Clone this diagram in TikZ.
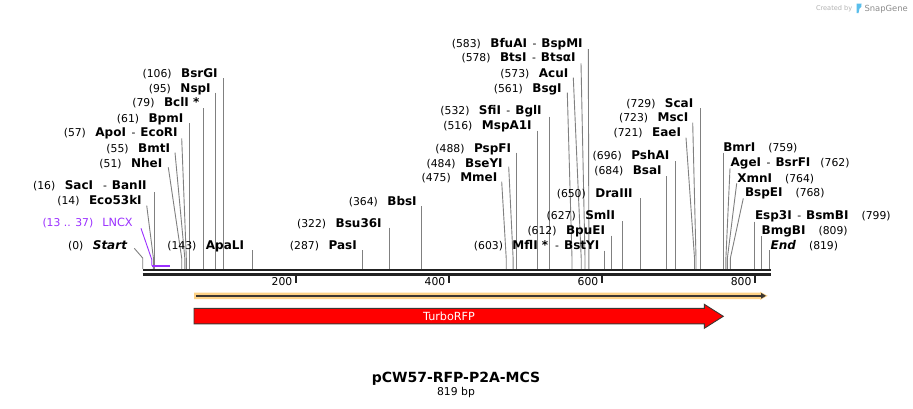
\documentclass[tikz,border=0pt]{standalone}
\usepackage{fontspec}
\setmainfont{DejaVu Sans}
\usetikzlibrary{arrows.meta}
\definecolor{sitegray}{RGB}{128,128,128}
\definecolor{bbone}{RGB}{34,34,34}
\definecolor{lncx}{RGB}{155,48,255}
\definecolor{featorange}{RGB}{253,210,135}
\definecolor{featdark}{RGB}{60,55,50}
\definecolor{rfpred}{RGB}{255,0,0}
\definecolor{logoblue}{RGB}{90,190,235}
\newcommand{\snm}[1]{{\fontsize{12}{14}\selectfont\bfseries #1}}
\newcommand{\snum}[1]{{\fontsize{10.8}{13}\selectfont #1}}
\newcommand{\dsep}{\hspace{5.5pt}\snum{-}\hspace{5pt}}
\newcommand{\lgap}{\hspace{9.5pt}}
\newcommand{\rgap}{\hspace{13pt}}
% left label: id, east x, baseline y, content, top x, top y, bottom x
\newcommand{\lsite}[7]{%
  \node[lab, anchor=base east] (#1) at (#2,#3) {#4};
  \coordinate (#1t) at (#5,#6);
  \coordinate (#1b) at (#7,258);
  \coordinate (#1e) at (#7,268.8);
  \draw[siteline] (#1t) -- (#1b) -- (#1e);
}
% right label: id, west x, baseline y, content, top x, top y, bottom x
\newcommand{\rsite}[7]{%
  \node[lab, anchor=base west] (#1) at (#2,#3) {#4};
  \coordinate (#1t) at (#5,#6);
  \coordinate (#1b) at (#7,258);
  \coordinate (#1e) at (#7,268.8);
  \draw[siteline] (#1t) -- (#1b) -- (#1e);
}
\begin{document}
\begin{tikzpicture}[x=1pt,y=-1pt,
  lab/.style={inner sep=0pt, outer sep=0pt, text=black},
  siteline/.style={draw=sitegray, line width=0.9pt},
  tickline/.style={draw=bbone, line width=1.6pt},
  ticklab/.style={inner sep=0pt, anchor=base east}]
\useasboundingbox[fill=white] (0,0) rectangle (913,408);

% ---- left sites
\lsite{start}{127}{249.7}{\snum{(0)}\lgap\snm{\itshape Start}}{134.3}{248.3}{142.7}
\lsite{eco}{141.7}{204.7}{\snum{(14)}\lgap\snm{Eco53kI}}{146.7}{205.5}{153.4}
\lsite{sac}{146.7}{189.7}{\snum{(16)}\lgap\snm{SacI}\hspace{10pt}\snum{-}\hspace{5pt}\snm{BanII}}{154.9}{192.3}{154.9}
\lsite{nhe}{162.3}{167}{\snum{(51)}\lgap\snm{NheI}}{168.3}{167.3}{181.7}
\lsite{bmt}{170}{152}{\snum{(55)}\lgap\snm{BmtI}}{175}{152.5}{184.8}
\lsite{apo}{177.7}{136.4}{\snum{(57)}\lgap\snm{ApoI}\dsep\snm{EcoRI}}{181.7}{138.3}{186.3}
\lsite{bpm}{183.3}{122}{\snum{(61)}\lgap\snm{BpmI}}{189.4}{123.3}{189.4}
\lsite{bcl}{199.3}{106.4}{\snum{(79)}\lgap\snm{BclI *}}{203.2}{108.3}{203.2}
\lsite{nsp}{210.7}{92}{\snum{(95)}\lgap\snm{NspI}}{215.4}{92.7}{215.4}
\lsite{bsrg}{217.7}{77}{\snum{(106)}\lgap\snm{BsrGI}}{223.8}{78.3}{223.8}
\lsite{apal}{244}{249.7}{\snum{(143)}\lgap\snm{ApaLI}}{252.1}{250}{252.1}
\lsite{pas}{356.7}{249.7}{\snum{(287)}\lgap\snm{PasI}}{362.3}{250}{362.3}
\lsite{bsu}{381.7}{227}{\snum{(322)}\lgap\snm{Bsu36I}}{389.1}{227.7}{389.1}
\lsite{bbs}{416.7}{205.4}{\snum{(364)}\lgap\snm{BbsI}}{421.3}{206}{421.3}
\lsite{mme}{497.3}{181.4}{\snum{(475)}\lgap\snm{MmeI}}{501.7}{181.7}{506.2}
\lsite{bsey}{502.7}{167}{\snum{(484)}\lgap\snm{BseYI}}{508.7}{166.7}{513.1}
\lsite{pspf}{511}{152}{\snum{(488)}\lgap\snm{PspFI}}{516.2}{152.7}{516.2}
\lsite{mspa}{531.7}{129.7}{\snum{(516)}\lgap\snm{MspA1I}}{537.6}{130.7}{537.6}
\lsite{sfi}{541.7}{114.7}{\snum{(532)}\lgap\snm{SfiI}\dsep\snm{BglI}}{549.8}{116.7}{549.8}
\lsite{bsg}{561.7}{92}{\snum{(561)}\lgap\snm{BsgI}}{567.3}{92.7}{572.0}
\lsite{acu}{568.3}{77}{\snum{(573)}\lgap\snm{AcuI}}{573.3}{77.7}{581.2}
\lsite{bts}{575.7}{61.4}{\snum{(578)}\lgap\snm{BtsI}\dsep\snm{BtsαI}}{581}{63.3}{585.0}
\lsite{bfua}{582.7}{47}{\snum{(583)}\lgap\snm{BfuAI}\dsep\snm{BspMI}}{588.3}{49}{588.9}
\lsite{mfl}{599.3}{249.7}{\snum{(603)}\lgap\snm{MflI *}\hspace{7pt}\snum{-}\hspace{5pt}\snm{BstYI}}{604.2}{250.7}{604.2}
\lsite{bpue}{605}{234.7}{\snum{(612)}\lgap\snm{BpuEI}}{611.1}{235.7}{611.1}
\lsite{sml}{615}{219.7}{\snum{(627)}\lgap\snm{SmlI}}{622.5}{221}{622.5}
\lsite{dra}{632.7}{197}{\snum{(650)}\lgap\snm{DraIII}}{640.2}{198.3}{640.2}
\lsite{bsa}{661.7}{174.7}{\snum{(684)}\lgap\snm{BsaI}}{666.2}{176}{666.2}
\lsite{psha}{669.3}{159.7}{\snum{(696)}\lgap\snm{PshAI}}{675.4}{161}{675.4}
\lsite{eae}{681}{136.4}{\snum{(721)}\lgap\snm{EaeI}}{686}{137.7}{694.5}
\lsite{msc}{688.3}{121.4}{\snum{(723)}\lgap\snm{MscI}}{692.7}{122.7}{696.0}
\lsite{sca}{693.3}{107}{\snum{(729)}\lgap\snm{ScaI}}{700.6}{108.3}{700.6}

% ---- right sites
\rsite{bmr}{723.3}{151.4}{\snm{BmrI}\rgap\snum{(759)}}{723.6}{152.7}{723.6}
\rsite{age}{730.7}{166.4}{\snm{AgeI}\dsep\snm{BsrFI}\hspace{10pt}\snum{(762)}}{730}{168.3}{725.9}
\rsite{xmn}{737.3}{182}{\snm{XmnI}\rgap\snum{(764)}}{736.7}{183.3}{727.4}
\rsite{bspe}{745}{196.4}{\snm{BspEI}\rgap\snum{(768)}}{743.3}{198.3}{730.4}
\rsite{esp}{755}{219.7}{\snm{Esp3I}\dsep\snm{BsmBI}\rgap\snum{(799)}}{754.2}{221.7}{754.2}
\rsite{bmg}{761.7}{234.7}{\snm{BmgBI}\rgap\snum{(809)}}{761.8}{236}{761.8}
\rsite{endsite}{770.7}{249.7}{\snm{\itshape End}\rgap\snum{(819)}}{769.5}{250}{769.5}

% ---- LNCX feature
\node[lab, anchor=base east, text=lncx] (lncx) at (132.7,226.4)
  {\snum{(13 .. 37)}\hspace{9pt}{\fontsize{11.3}{13}\selectfont LNCX}};
\coordinate (lnt) at (141,228.3);
\coordinate (lnb) at (151.7,259.3);
\coordinate (lnc) at (151.7,265.7);
\coordinate (lnd) at (170.3,265.7);
\draw[lncx, line width=0.9pt] (lnt) -- (lnb) -- (lnc);
\draw[lncx, line width=2pt] (lnc) -- (lnd);

% ---- backbone
\coordinate (bbL1) at (142.7,270);
\coordinate (bbR1) at (770.5,270);
\coordinate (bbL2) at (142.7,274.4);
\coordinate (bbR2) at (770.5,274.4);
\draw[bbone, line width=2.7pt] (bbL1) -- (bbR1);
\draw[bbone, line width=2.3pt] (bbL2) -- (bbR2);

% ---- ticks
\foreach \v/\xx in {200/295.8, 400/448.8, 600/601.8, 800/754.9}{
  \coordinate (k\v a) at (\xx,275.3);
  \coordinate (k\v b) at (\xx,283);
  \draw[tickline] (k\v a) -- (k\v b);
  \node[ticklab] (l\v) at (\xx-3.3,285.6) {\snum{\v}};
}

% ---- orange feature
\fill[featorange] (194,292.7) -- (760,292.7) -- (760,291.7) -- (767.6,295.8)
  -- (760,300) -- (760,299) -- (194,299) -- cycle;
\coordinate (fa) at (196,295.8);
\coordinate (fb) at (766,295.8);
\draw[featdark, line width=1.9pt, -{Triangle[length=5pt,width=5.5pt]}] (fa) -- (fb);

% ---- TurboRFP arrow
\filldraw[fill=rfpred, draw=featdark, line width=0.9pt]
  (194,308.3) -- (704.3,308.3) -- (704.3,304.3) -- (723.3,316.3)
  -- (704.3,328.3) -- (704.3,323.8) -- (194,323.8) -- cycle;
\node[lab, text=white] (rfp) at (449,316.3) {\fontsize{11.2}{13}\selectfont TurboRFP};

% ---- title
\node[lab, anchor=base] (title) at (456,382) {\fontsize{14}{16}\selectfont\bfseries pCW57-RFP-P2A-MCS};
\node[lab, anchor=base] (len) at (456,395.2) {\snum{819 bp}};

% ---- credit
\node[lab, anchor=base west, text=black!30] (cby) at (816,10.5) {\fontsize{6.6}{8}\selectfont Created by};
\fill[logoblue] (856.5,3.5) -- (861.5,3.5) .. controls (862.5,5.5) and (861,8) .. (859.5,8.5) -- (858.5,13) -- (856.5,13) -- cycle;
\node[lab, anchor=base west, text=black!45] (sg) at (864.5,11.5) {\fontsize{8.4}{10}\selectfont SnapGene};
\end{tikzpicture}
\end{document}
